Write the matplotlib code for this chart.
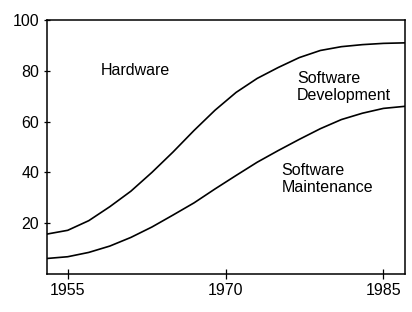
import matplotlib.pyplot as plt

plt.rcParams['font.family'] = ['Liberation Sans', 'DejaVu Sans']

# years and the two boundary curves (percent of total cost)
years = [1953, 1955, 1957, 1959, 1961, 1963, 1965, 1967, 1969, 1971,
         1973, 1975, 1977, 1979, 1981, 1983, 1985, 1987]
hw_boundary = [15.7, 17.2, 21.0, 26.5, 32.6, 40.0, 48.0, 56.5, 64.5, 71.5,
               77.0, 81.3, 85.2, 88.0, 89.5, 90.3, 90.8, 91.0]
maint_boundary = [6.1, 6.8, 8.5, 11.0, 14.4, 18.5, 23.2, 28.0, 33.5, 38.8,
                  44.0, 48.6, 53.0, 57.2, 60.8, 63.3, 65.2, 66.0]

x_ticks = [1955, 1970, 1985]
y_ticks = [20, 40, 60, 80, 100]

fig = plt.figure(figsize=(4.12, 3.12), dpi=100)
ax = fig.add_axes([0.1133, 0.1218, 0.8685, 0.8141])

ax.plot(years, hw_boundary, color='black', lw=1.2)
ax.plot(years, maint_boundary, color='black', lw=1.2)

ax.set_xlim(1953, 1987)
ax.set_ylim(0, 100)
ax.set_xticks(x_ticks)
ax.set_yticks(y_ticks)
ax.tick_params(axis='x', direction='inout', length=6.5, width=0.9, labelsize=11.5, pad=3.5)
ax.tick_params(axis='y', direction='inout', length=5, width=0.9, labelsize=11.5, pad=3)
for s in ax.spines.values():
    s.set_linewidth(1.1)

# region labels
ax.text(1958.1, 80.1, 'Hardware', fontsize=11.5, va='center', ha='left')
ax.text(1976.8, 73.7, 'Software\nDevelopment', fontsize=11.5, va='center', ha='left')
ax.text(1975.3, 37.4, 'Software\nMaintenance', fontsize=11.5, va='center', ha='left')

fig.savefig('out.png', dpi=100)
